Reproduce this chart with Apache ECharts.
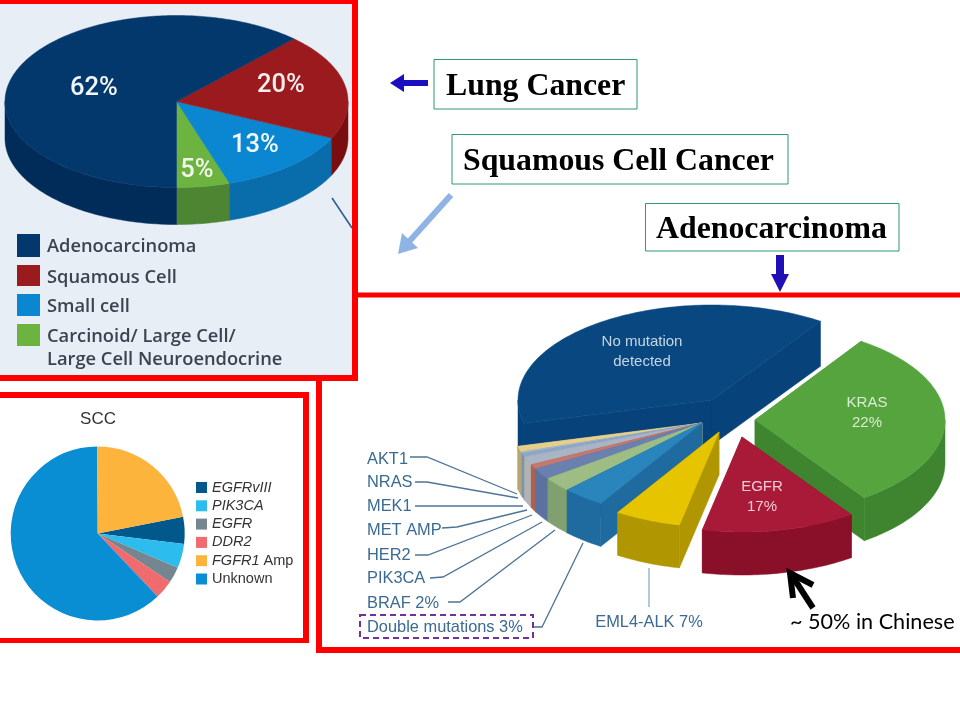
<!DOCTYPE html>
<html><head><meta charset="utf-8">
<style>html,body{margin:0;padding:0;background:#fff}#c{width:960px;height:720px}</style>
<script src="https://cdn.jsdelivr.net/npm/echarts@6/dist/echarts.min.js"></script>
</head><body><div id="c"></div>
<script>
// ---- Lung cancer pie
const lungNames = ['Carcinoid/ Large Cell/\nLarge Cell Neuroendocrine','Small cell','Squamous Cell','Adenocarcinoma'];
const lungValues = [5,13,20,62];
const lungTop = ['#6cb33f','#0a87d0','#9b1a1e','#03386c'];
const lungWall = ['#4d8533','#0a6dab','#7a0d0f','#012c5a'];
const lungLegendOrder = [3,2,1,0];
// ---- SCC pie
const sccNames = ['EGFRvIII','PIK3CA','EGFR','DDR2','Unknown','FGFR1 Amp'];
const sccValues = [5,4.5,3,3.5,62,22];
const sccColors = ['#00598a','#2cbcee','#768690','#ef6b6d','#0a8ed3','#fdb43d'];
const sccLegend = ['EGFRvIII','PIK3CA','EGFR','DDR2','FGFR1 Amp','Unknown'];
// ---- Adenocarcinoma pie: share of the circle each wedge occupies as drawn
const adenoNames = ['KRAS','EGFR','EML4-ALK','Double mutations','BRAF','PIK3CA','HER2','MET AMP','MEK1','NRAS','AKT1','No mutation detected'];
const adenoDrawnShare = [30.8,13.1,5.6,3.6,2.5,1.9,0.8,1.4,0.6,0.3,1,38.4];
const adenoTop = ['#55a43e','#a81a38','#e6c500','#2a85bd','#9ebd84','#6a80ae','#c4786f','#a9b4c4','#8fa7c7','#a4b7d0','#e5cf8a','#08477f'];
const adenoWall = ['#3f8530','#8a0f28','#b09600','#1f6a9e','#80a070','#5b72a0','#b0604f','#b0b2b4','#7f92a8','#94a6bc','#b9a765','#07437a'];
const adenoCenters = [[755,420],[742,437],[719,432],[702,423],[702,423],[702,423],[702,423],[702,423],[702,423],[702,423],[702,423],[712,400]];
const adenoCalloutNames = ['AKT1','NRAS','MEK1','MET AMP','HER2','PIK3CA','BRAF 2%','Double mutations 3%'];

const pt=(c,r,a,dy)=>{const t=a*Math.PI/180;return [c[0]+r[0]*Math.cos(t),c[1]+r[1]*Math.sin(t)+(dy||0)];};
function arcPts(c,r,a0,a1,dy){const n=Math.max(2,Math.ceil(Math.abs(a1-a0)));const o=[];for(let i=0;i<=n;i++)o.push(pt(c,r,a0+(a1-a0)*i/n,dy));return o;}
function wedge(c,r,depth,a0,a1,top,wall,sides){
  const lo=Math.min(a0,a1),hi=Math.max(a0,a1),kids=[];
  const sh=(p,d)=>[p[0],p[1]+d];
  const poly=(points,fill)=>({type:'polygon',shape:{points},style:{fill,stroke:fill,lineWidth:0.5}});
  // side walls from the apex
  (sides==='none'?[]:[lo,hi]).forEach(a=>{const e=pt(c,r,a);kids.push(poly([c,e,sh(e,depth),sh(c,depth)],wall));});
  // outer wall: only the part of the rim that faces the viewer
  for(const k of [-360,0,360]){
    const s=Math.max(lo,k),t=Math.min(hi,k+180);
    if(t>s){const a=arcPts(c,r,s,t,0),b=arcPts(c,r,t,s,depth);kids.push(poly(a.concat(b),wall));}
  }
  kids.push(poly([c].concat(arcPts(c,r,a0,a1,0)),top));
  return {type:'group',children:kids};
}
function angles(values,start,dir){let cum=start;return values.map(v=>{const a=[cum,cum+dir*v*3.6];cum=a[1];return a;});}
const lungAngles=angles(lungValues,90,-1);
const adenoAngles=angles(adenoDrawnShare,-56,1);

const LUNG_C=[176.5,101.5],LUNG_R=[171.5,86],ADENO_R=[190,95],NAVY_R=[194,95];
const g=[];
const rect=(x,y,w,h,fill,z,extra)=>g.push(Object.assign({type:'rect',shape:{x,y,width:w,height:h},style:{fill},z:z},extra||{}));
const text=(x,y,t,font,fill,align,z)=>g.push({type:'text',x,y,z:z||50,style:{text:t,font,fill,align:align||'left',verticalAlign:'middle',lineHeight:20}});
const line=(pts,stroke,w)=>g.push({type:'polyline',z:40,shape:{points:pts},style:{stroke,lineWidth:w,fill:null}});
const arrow=(pts,fill)=>g.push({type:'polygon',z:45,shape:{points:pts},style:{fill}});

// panels and frames
rect(0,4,352,371,'#e8eef5',0);
rect(316,381,6,272,'#ff0000',30); rect(356,292.5,604,5,'#ff0000',30); rect(316,647,644,6,'#ff0000',30);
rect(0,0,358,4,'#ff0000',31); rect(352,0,6,381,'#ff0000',31); rect(0,375,358,6,'#ff0000',31);
rect(0,392,309,6,'#ff0000',31); rect(303,392,6,251,'#ff0000',31); rect(0,638,309,5,'#ff0000',31);
line([[332,198],[352,228]],'#2a5a8c',1.5);

// lung labels and legend
const lungLabelFont='500 25.5px Roboto';
text(94,89,'62%',lungLabelFont,'#f2f6fa','center');
text(281,86,'20%',lungLabelFont,'#f8eeee','center');
text(255,146,'13%',lungLabelFont,'#f2f8fc','center');
text(197,171,'5%',lungLabelFont,'#f2f8ee','center');
const lungLegendY=[234,265,294,324], lungLegendH=[23,21,22,22];
lungLegendOrder.forEach((k,i)=>{
  rect(17,lungLegendY[i],23,lungLegendH[i],lungTop[k],5);
  const parts=lungNames[k].split('\n');
  parts.forEach((p,j)=>text(47,lungLegendY[i]+12.5+j*23,p,'600 18.3px "Open Sans"','#3c4350','left'));
});

// title boxes
const boxFont='bold 31.8px "Liberation Serif"';
[[434,59.5,203,49.5,'Lung Cancer',446],[452,134.5,336,49.5,'Squamous Cell Cancer',463],[645.5,203.5,253.5,47.5,'Adenocarcinoma',656]].forEach(b=>{
  g.push({type:'rect',z:20,shape:{x:b[0],y:b[1],width:b[2],height:b[3]},style:{fill:'#fff',stroke:'#2e9a6e',lineWidth:1}});
  text(b[5],b[1]+b[3]/2+3,b[4],boxFont,'#000','left');
});
// arrows
arrow([[390,83],[404,74],[404,80],[428,80],[428,86],[404,86],[404,92]],'#1a0fc0');
arrow([[780,292],[771,274],[776,274],[776,255],[784,255],[784,274],[789,274]],'#1f0fb5');
line([[451,195],[406,245]],'#8fb4e3',6);
arrow([[398,254],[402,233],[418,248]],'#8fb4e3');
line([[813,608],[791,574]],'#000',6);
line([[793,598],[790,573],[813,585]],'#000',6);
text(790,622,'~ 50% in Chinese','21.6px Lato','#000','left');

// adeno labels
const cf='16.4px "Liberation Sans"', cc='#3b6a93';
const calloutY=[459,482.5,506.5,530,555,578,603,627];
adenoCalloutNames.forEach((n,i)=>text(367,calloutY[i],n,cf,cc,'left'));
text(649,622,'EML4-ALK 7%',cf,cc,'center');
const lc='#4d7497';
[[[410,457],[427,457],[517,494]],[[415,482],[427,482],[518,498]],[[415,506],[523,506]],[[442,528],[457,527],[527,510]],
 [[415,555],[428,555],[532,515]],[[430,578],[443,577],[542,522]],[[448,602],[460,602],[555,530]],[[533,627],[542,627],[583,543]]]
 .forEach(p=>line(p,lc,1.3));
line([[649,568],[649,607]],'#9bb6cf',1.5);
g.push({type:'rect',z:41,shape:{x:360,y:615,width:173,height:23},style:{fill:null,stroke:'#7030a0',lineWidth:2,lineDash:[6,4]}});
const inner='15px "Liberation Sans"';
text(642,342,'No mutation',inner,'#c6d6e4','center');
text(642,362,'detected',inner,'#c6d6e4','center');
text(867,403,'KRAS',inner,'#dcebd3','center');
text(867,423,'22%',inner,'#dcebd3','center');
text(762,487,'EGFR',inner,'#f2ccd4','center');
text(762,507,'17%',inner,'#f2ccd4','center');

const chart=echarts.init(document.getElementById('c'),null,{renderer:'canvas'});
const adenoOrder=[11,10,9,8,7,6,5,4,3,2,0,1];
chart.setOption({
  animation:false,
  backgroundColor:'#fff',
  title:{text:'SCC',left:98,top:411,padding:0,textAlign:'center',textStyle:{fontFamily:'Liberation Sans',fontWeight:'normal',fontSize:17,color:'#333'}},
  legend:{left:196,top:480,padding:0,orient:'vertical',data:sccLegend,icon:'rect',itemWidth:11,itemHeight:11,itemGap:3.3,itemStyle:{borderWidth:0},selectedMode:false,
    formatter:n=>{const p=n.split(' ');return n==='Unknown'?'{n|'+n+'}':'{i|'+p[0]+'}'+(p[1]?'{n| '+p[1]+'}':'');},
    textStyle:{rich:{i:{fontFamily:'Liberation Sans',fontStyle:'italic',fontSize:14.5,color:'#333',lineHeight:14},n:{fontFamily:'Liberation Sans',fontSize:14.5,color:'#333',lineHeight:14}}}},
  graphic:{elements:g},
  series:[
    {type:'pie',center:[97.7,533.5],radius:[0,87],startAngle:11.1,clockwise:true,label:{show:false},labelLine:{show:false},silent:true,z:3,
     data:sccNames.map((n,i)=>({name:n,value:sccValues[i],itemStyle:{color:sccColors[i]}}))},
    {type:'custom',coordinateSystem:'none',silent:true,z:4,data:lungValues,
     renderItem:(p)=>{const i=p.dataIndex,a=lungAngles[i];return wedge(LUNG_C,LUNG_R,37,a[0],a[1],lungTop[i],lungWall[i],'none');}},
    {type:'custom',coordinateSystem:'none',silent:true,z:5,data:adenoOrder.map(k=>adenoDrawnShare[k]),
     renderItem:(p)=>{const k=adenoOrder[p.dataIndex],a=adenoAngles[k];return wedge(adenoCenters[k],k===11?NAVY_R:ADENO_R,k===11?45:43,a[0],a[1],adenoTop[k],adenoWall[k],'both');}}
  ]
});
</script></body></html>
